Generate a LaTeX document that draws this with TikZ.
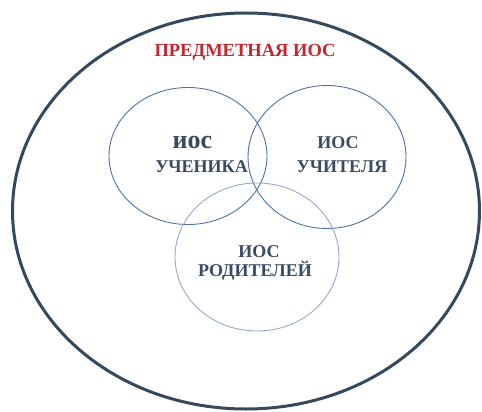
\documentclass[tikz,border=0pt]{standalone}
\usepackage{fontspec}
\setmainfont{Liberation Serif}
\usepackage{tikz}
\usetikzlibrary{shapes.geometric,calc}
\definecolor{frameblue}{HTML}{34495E}
\definecolor{ringblue}{HTML}{4F6FA6}
\definecolor{paleblue}{HTML}{95A8CB}
\definecolor{inkblue}{HTML}{3A4A60}
\definecolor{titlered}{HTML}{C4262E}

\begin{document}
\begin{tikzpicture}[x=1pt, y=-1pt, font=\bfseries\fontsize{18}{20}\selectfont]
		\tikzstyle{area}=[ellipse, draw=ringblue, line width=0.9pt, inner sep=0pt]
		\tikzstyle{caption}=[text=inkblue, anchor=base, inner sep=0pt]
		\useasboundingbox (0,0) rectangle (482,412);
		\begin{scope}
			\node[ellipse, draw=frameblue, line width=3pt, minimum width=467pt,
			minimum height=396pt] (subject) at (246,211) {};
			\node[text=titlered, anchor=base, inner sep=0pt,
			font=\bfseries\fontsize{18.5}{20}\selectfont] (title) at (245,57)
			{ПРЕДМЕТНАЯ ИОС};

			\node[area, minimum width=158pt, minimum height=137pt] (pupil) at
			(188,156) {}; \node[area, minimum width=158pt, minimum
			height=143pt] (teacher) at (327,157) {}; \node[area,
			draw=paleblue, minimum width=164pt, minimum height=148pt]
			(parents) at (257,257) {};

			\node[caption, font=\bfseries\fontsize{26}{28}\selectfont] (pupil1)
			at ($(pupil)+(4.5,-7.5)$) {иос}; \node[caption] (pupil2) at
			($(pupil)+(13.5,16)$) {УЧЕНИКА}; \node[caption] (teacher1) at
			($(teacher)+(11,-8.5)$) {ИОС}; \node[caption] (teacher2) at
			($(teacher)+(15,15)$) {УЧИТЕЛЯ}; \node[caption] (parents1) at
			($(parents)+(2,0)$) {ИОС}; \node[caption] (parents2) at
			($(parents)+(-2,19.5)$) {РОДИТЕЛЕЙ};
		\end{scope}
	\end{tikzpicture}
\end{document}
